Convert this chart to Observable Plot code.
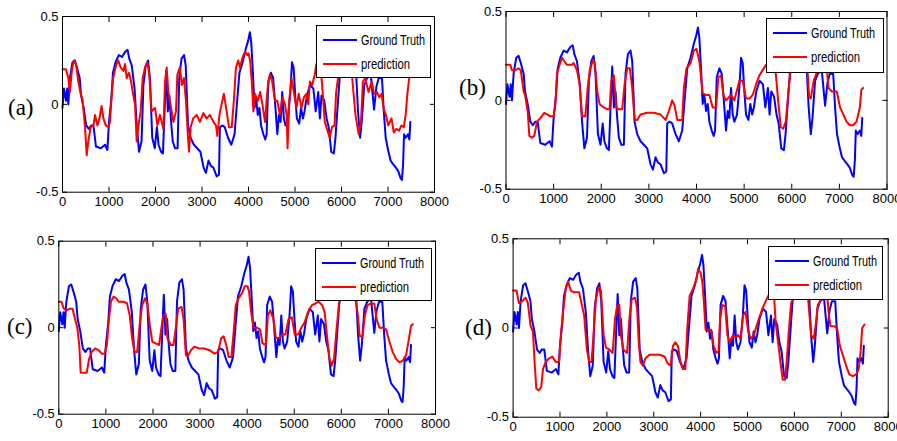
<!DOCTYPE html>
<html><head><meta charset="utf-8">
<script src="https://cdn.jsdelivr.net/npm/d3@7"></script>
<script src="https://cdn.jsdelivr.net/npm/@observablehq/plot@0.6"></script>
<style>
body{margin:0;background:#fff;}
#root{position:relative;width:897px;height:441px;overflow:hidden;background:#fff}
.panel{position:absolute}
.lab{position:absolute;font-family:"Liberation Serif","DejaVu Serif",serif;font-size:23px;line-height:1;color:#000}
</style></head><body><div id="root"></div>
<script>
// ---- Data ----
const xTicks = [0,1000,2000,3000,4000,5000,6000,7000,8000];
const yTicks = [-0.5,0,0.5];
const seriesNames = ["Ground Truth","prediction"];
const panelLabels = ["(a)","(b)","(c)","(d)"];

const gtT = [0,30,75,100,125,160,215,265,310,370,400,455,510,565,615,665,720,825,915,965,1000,1050,1085,1140,1210,1280,1350,1400,1435,1490,1550,1600,1645,1700,1740,1790,1840,1880,1930,1985,2030,2065,2120,2160,2195,2230,2265,2300,2335,2370,2420,2475,2510,2560,2615,2650,2700,2755,2825,2895,2965,3035,3085,3140,3190,3245,3315,3365,3385,3435,3490,3560,3630,3700,3750,3805,3875,3945,3990,4030,4060,4095,4130,4165,4200,4235,4270,4320,4360,4390,4425,4480,4530,4585,4620,4655,4690,4725,4760,4795,4850,4900,4935,4970,5005,5040,5090,5130,5170,5205,5255,5325,5395,5445,5500,5535,5570,5630,5680,5725,5780,5835,5870,5925,5960,5995,6050,6150,6250,6300,6320,6355,6400,6435,6490,6550,6630,6700,6750,6800,6870,6910,6950,7010,7055,7110,7170,7220,7270,7300,7325,7345,7380,7430,7460,7480];
const gtV = [-0.02,0.09,0.02,0.09,0.0,0.15,0.24,0.25,0.21,0.15,0.05,-0.02,-0.12,-0.14,-0.12,-0.12,-0.24,-0.25,-0.23,-0.26,-0.1,0.03,0.18,0.24,0.28,0.27,0.30,0.31,0.26,0.22,0.09,-0.13,-0.27,-0.21,0.11,0.22,0.25,0.15,-0.19,-0.25,-0.13,-0.23,-0.27,-0.28,-0.04,0.19,-0.04,0.05,-0.1,-0.21,-0.25,-0.25,0.15,0.26,0.28,0.22,-0.12,-0.19,-0.23,-0.25,-0.27,-0.36,-0.39,-0.32,-0.35,-0.36,-0.41,-0.40,-0.13,-0.12,-0.13,-0.19,-0.23,-0.17,0.0,0.18,0.24,0.32,0.36,0.41,0.35,0.18,-0.02,0.03,-0.06,-0.02,-0.12,-0.17,-0.2,-0.17,0.13,0.18,0.15,-0.04,-0.17,-0.06,-0.1,0.07,-0.08,-0.12,-0.08,0.07,0.24,0.21,0.05,-0.08,-0.11,-0.02,-0.08,-0.04,0.05,0.11,0.09,-0.04,0.07,-0.08,0.05,0.02,-0.08,-0.13,-0.27,-0.28,-0.19,0.02,0.15,0.18,0.30,0.32,0.30,0.20,0.15,-0.04,-0.19,-0.1,0.11,0.15,0.17,-0.03,0.10,0.15,0.15,-0.04,-0.19,-0.27,-0.32,-0.34,-0.36,-0.38,-0.42,-0.43,-0.34,-0.17,-0.19,-0.17,-0.2,-0.1];

const predAT = [0,75,125,160,200,245,290,340,390,430,485,520,555,605,665,700,750,795,840,880,930,985,1020,1055,1090,1150,1200,1250,1310,1345,1380,1430,1475,1510,1560,1595,1630,1680,1725,1775,1825,1865,1915,1990,2040,2095,2170,2205,2240,2275,2335,2385,2440,2470,2525,2565,2610,2655,2690,2720,2755,2810,2885,2955,3030,3100,3170,3245,3300,3330,3375,3420,3470,3530,3580,3640,3690,3730,3780,3815,3875,3925,3975,4000,4035,4070,4105,4140,4200,4250,4300,4355,4410,4460,4510,4570,4620,4675,4730,4785,4820,4840,4875,4925,4975,5030,5080,5140,5190,5245,5285,5320,5370,5425,5460,5520,5570,5600,5640,5710,5745,5795,5850,5885,5935,6000,6100,6200,6230,6300,6370,6420,6460,6510,6580,6650,6700,6760,6815,6865,6900,6955,7005,7075,7125,7180,7240,7290,7340,7380,7410,7450,7480];
const predAV = [0.2,0.2,0.15,0.07,0.19,0.25,0.23,0.13,0.06,0.03,-0.13,-0.29,-0.21,-0.13,-0.12,-0.06,-0.12,-0.08,-0.01,-0.08,-0.12,-0.13,-0.1,0.04,0.15,0.22,0.25,0.21,0.19,0.23,0.15,0.18,0.13,0.07,0.0,-0.21,-0.13,-0.04,0.15,0.21,0.24,0.17,-0.04,-0.02,-0.12,-0.06,-0.14,0.13,0.21,0.07,-0.02,-0.1,-0.04,0.17,0.21,0.11,0.15,0.02,-0.15,-0.27,-0.13,-0.08,-0.06,-0.1,-0.05,-0.08,-0.06,-0.1,-0.12,-0.18,-0.06,0.0,0.06,-0.04,-0.13,-0.13,0.04,0.21,0.25,0.21,0.27,0.30,0.28,0.29,0.25,0.13,-0.04,0.06,0.02,0.07,0.0,-0.1,0.09,0.17,0.13,0.02,0.02,-0.06,0.04,0.0,-0.06,-0.25,0.02,0.15,0.07,-0.02,0.06,-0.02,0.04,0.06,0.0,0.13,0.11,0.17,0.23,0.25,0.15,0.05,-0.1,-0.16,-0.19,-0.13,-0.12,0.07,0.17,0.25,0.28,0.25,0.15,-0.06,-0.17,-0.1,0.13,0.15,0.07,0.13,0.06,0.07,0.04,0.06,-0.02,-0.06,-0.12,-0.08,-0.16,-0.14,-0.15,-0.12,-0.13,-0.06,0.04,0.14,0.17];

const predBT = [0,90,125,195,265,310,370,400,455,490,545,595,650,720,805,875,930,1000,1035,1070,1125,1175,1225,1280,1335,1385,1420,1490,1545,1595,1665,1715,1760,1830,1865,1915,1965,2050,2125,2175,2210,2265,2315,2370,2440,2490,2545,2600,2650,2700,2755,2825,2965,3105,3245,3350,3420,3490,3540,3595,3700,3735,3790,3875,3945,4000,4060,4130,4200,4270,4340,4410,4460,4515,4565,4620,4690,4725,4795,4900,4970,5040,5110,5180,5250,5320,5390,5460,5560,5665,5720,5770,5820,5875,5930,5980,6100,6250,6330,6365,6400,6460,6530,6630,6740,6770,6840,6945,7015,7085,7150,7220,7290,7360,7430,7460,7500];
const predBV = [0.2,0.2,0.17,0.17,0.18,0.17,0.05,0.03,-0.06,-0.2,-0.21,-0.2,-0.12,-0.1,-0.07,-0.08,-0.09,-0.09,-0.03,0.15,0.2,0.24,0.22,0.2,0.2,0.2,0.21,0.17,0.09,-0.09,-0.09,0.07,0.17,0.23,0.21,0.05,-0.02,-0.04,-0.05,-0.05,0.11,0.14,-0.04,-0.05,-0.05,0.09,0.18,0.18,0.07,-0.11,-0.11,-0.08,-0.07,-0.07,-0.08,-0.11,-0.06,0.0,-0.03,-0.11,-0.11,0.07,0.18,0.21,0.28,0.29,0.22,0.04,0.03,0.03,-0.04,-0.04,0.13,0.14,0.03,0.0,0.02,0.03,0.0,0.11,0.11,0.01,0.01,0.03,0.09,0.14,0.17,0.2,0.22,0.15,-0.02,-0.15,-0.16,-0.12,0.05,0.18,0.25,0.25,0.17,0.02,0.01,0.11,0.16,0.17,0.17,0.07,0.05,0.05,-0.04,-0.08,-0.12,-0.14,-0.14,-0.12,-0.04,0.06,0.07];

const predCT = [0,57,107,165,235,293,343,393,435,465,520,593,643,700,770,843,915,970,1020,1057,1107,1165,1220,1270,1380,1450,1507,1557,1607,1665,1715,1770,1830,1880,1935,1985,2057,2130,2180,2220,2270,2307,2380,2435,2485,2535,2607,2650,2700,2750,2807,2880,2985,3093,3200,3307,3380,3450,3500,3557,3607,3665,3715,3757,3820,3893,3950,4007,4040,4085,4135,4205,4275,4325,4400,4440,4490,4560,4610,4680,4740,4810,4880,4950,5010,5080,5150,5220,5290,5375,5450,5520,5595,5645,5700,5750,5795,5845,5895,5950,6100,6250,6345,6390,6450,6500,6555,6630,6700,6750,6810,6880,6950,7020,7090,7160,7235,7305,7375,7450,7480,7520];
const predCV = [0.15,0.15,0.11,0.10,0.11,0.11,0.05,0.0,-0.1,-0.26,-0.26,-0.26,-0.18,-0.14,-0.12,-0.13,-0.15,-0.15,-0.1,0.03,0.15,0.18,0.17,0.15,0.15,0.14,0.07,-0.06,-0.14,-0.14,0.01,0.13,0.17,0.14,0.01,-0.08,-0.09,-0.1,0.0,0.07,0.08,-0.06,-0.1,-0.1,0.0,0.11,0.12,0.05,-0.16,-0.16,-0.13,-0.11,-0.12,-0.12,-0.13,-0.15,-0.14,-0.06,-0.05,-0.1,-0.17,-0.17,-0.02,0.13,0.17,0.2,0.24,0.24,0.21,0.09,0.0,0.0,-0.01,-0.09,-0.1,0.07,0.10,0.05,-0.06,-0.06,-0.04,-0.04,0.05,0.06,-0.04,-0.04,0.0,0.03,0.09,0.13,0.14,0.15,0.13,0.09,-0.06,-0.18,-0.22,-0.18,-0.02,0.14,0.25,0.25,0.09,-0.05,-0.05,0.07,0.13,0.14,0.14,0.05,0.0,0.0,-0.01,-0.08,-0.14,-0.18,-0.2,-0.19,-0.16,-0.04,0.01,0.02];

const predDT = [0,73,123,195,265,315,373,423,458,495,550,600,637,695,765,837,910,980,1018,1065,1123,1173,1230,1300,1407,1458,1515,1573,1623,1673,1715,1765,1823,1873,1930,1980,2050,2123,2173,2215,2265,2300,2350,2430,2480,2530,2600,2645,2680,2715,2765,2823,2910,3015,3120,3230,3300,3360,3410,3460,3515,3570,3623,3673,3715,3765,3837,3908,3945,4000,4035,4070,4105,4155,4225,4275,4335,4380,4415,4460,4525,4570,4620,4690,4740,4800,4850,4905,4955,5015,5070,5135,5190,5265,5335,5405,5480,5565,5600,5660,5710,5750,5800,5835,5885,5930,6100,6250,6300,6355,6410,6460,6500,6570,6700,6735,6770,6840,6910,6970,7030,7100,7170,7245,7315,7370,7410,7445,7495];
const predDV = [0.21,0.21,0.14,0.15,0.17,0.14,0.01,-0.02,-0.19,-0.34,-0.35,-0.33,-0.23,-0.19,-0.17,-0.16,-0.19,-0.19,-0.04,0.09,0.22,0.26,0.21,0.2,0.2,0.14,0.07,-0.12,-0.19,-0.19,-0.04,0.16,0.23,0.21,-0.04,-0.11,-0.12,-0.14,0.05,0.12,0.13,-0.04,-0.12,-0.14,0.05,0.16,0.17,0.11,-0.08,-0.19,-0.21,-0.17,-0.15,-0.15,-0.15,-0.16,-0.2,-0.21,-0.1,-0.08,-0.1,-0.19,-0.23,-0.23,0.0,0.18,0.22,0.27,0.33,0.31,0.26,0.14,-0.01,-0.01,-0.01,-0.1,-0.14,-0.13,0.05,0.13,0.12,-0.04,-0.08,-0.04,-0.05,-0.04,-0.06,0.07,0.09,-0.02,-0.06,-0.04,0.01,0.07,0.12,0.16,0.2,0.18,0.03,-0.1,-0.21,-0.29,-0.29,-0.19,0.0,0.14,0.25,0.25,0.14,-0.04,-0.06,0.03,0.13,0.16,0.18,0.07,0.01,0.01,0.0,-0.1,-0.15,-0.21,-0.26,-0.27,-0.26,-0.23,-0.14,0.0,0.02];

// ---- Layout ----
const toRows = (t, v) => t.map((d, i) => ({t: d, v: v[i]}));
const gt = toRows(gtT, gtV);
const preds = [toRows(predAT, predAV), toRows(predBT, predBV), toRows(predCT, predCV), toRows(predDT, predDV)];

const panels = [
  {left:0,   top:0,   w:448, h:215, mt:16,   mr:14,   mb:23.3, ml:62,   leg:[316,25,114,52], lab:[8,96]},
  {left:448, top:0,   w:449, h:215, mt:11,   mr:10.5, mb:26.3, ml:57.5, leg:[318,18,117,54], lab:[459,76]},
  {left:0,   top:220, w:448, h:221, mt:20.7, mr:13,   mb:27.3, ml:58.3, leg:[315,28,116,52], lab:[7,315]},
  {left:448, top:220, w:449, h:221, mt:18.3, mr:9.3,  mb:24.3, ml:64.6, leg:[320,26,114,53], lab:[465,316]}
];

const root = document.getElementById("root");
panels.forEach((p, i) => {
  const fmt = d => String(d);
  const chart = Plot.plot({
    width: p.w, height: p.h,
    marginTop: p.mt, marginRight: p.mr, marginBottom: p.mb, marginLeft: p.ml,
    x: {domain: [0, 8000]},
    y: {domain: [-0.5, 0.5]},
    style: {fontFamily: "'Liberation Sans', Arial, sans-serif", fontSize: "13px", color: "#000", background: "transparent", overflow: "visible"},
    marks: [
      Plot.line(gt, {x: "t", y: "v", stroke: "#0000ff", strokeWidth: 2}),
      Plot.line(preds[i], {x: "t", y: "v", stroke: "#ff0000", strokeWidth: 2}),
      Plot.frame({stroke: "#000", strokeWidth: 1}),
      Plot.axisX(xTicks, {anchor: "bottom", tickSize: -5, tickPadding: 10, tickFormat: fmt, label: null}),
      Plot.axisX(xTicks, {anchor: "top", tickSize: -5, tickFormat: () => "", label: null}),
      Plot.axisY(yTicks, {anchor: "left", tickSize: -5, tickPadding: 9, tickFormat: fmt, label: null}),
      Plot.axisY(yTicks, {anchor: "right", tickSize: -5, tickFormat: () => "", label: null})
    ]
  });
  chart.classList.add("panel");
  chart.style.left = p.left + "px";
  chart.style.top = p.top + "px";

  // legend (opaque box, like the original)
  const svg = d3.select(chart);
  const [lx, ly, lw, lh] = p.leg;
  const g = svg.append("g").attr("text-anchor", "start");
  g.append("rect").attr("x", lx + 0.5).attr("y", ly + 0.5).attr("width", lw).attr("height", lh)
    .attr("fill", "#fff").attr("stroke", "#000").attr("stroke-width", 1);
  const colors = ["#0000ff", "#ff0000"];
  const widths = [64, 49];
  seriesNames.forEach((name, k) => {
    const yy = ly + 15 + k * 24;
    g.append("line").attr("x1", lx + 7).attr("x2", lx + 41).attr("y1", yy).attr("y2", yy)
      .attr("stroke", colors[k]).attr("stroke-width", 2);
    g.append("text").attr("x", lx + 45).attr("y", yy).attr("dy", "0.35em")
      .attr("text-anchor", "start")
      .attr("font-family", "'Liberation Sans', Arial, sans-serif").attr("font-size", 15)
      .attr("textLength", widths[k]).attr("lengthAdjust", "spacingAndGlyphs")
      .attr("fill", "#000").text(name);
  });
  root.appendChild(chart);

  const lab = document.createElement("div");
  lab.className = "lab";
  lab.style.left = p.lab[0] + "px";
  lab.style.top = p.lab[1] + "px";
  lab.textContent = panelLabels[i];
  root.appendChild(lab);
});
</script>
</body></html>
